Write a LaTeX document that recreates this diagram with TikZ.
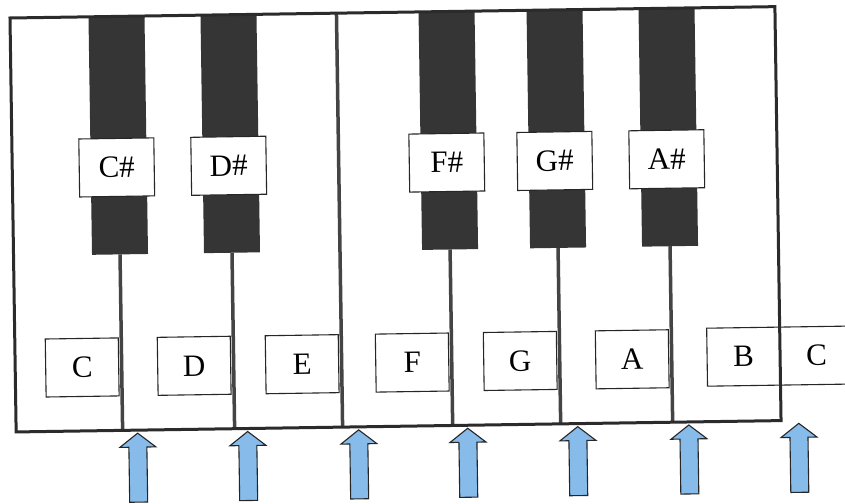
\documentclass[tikz,border=0pt]{standalone}
\usepackage{fontspec}
\setmainfont{Liberation Serif}
\definecolor{keyblack}{HTML}{353535}
\definecolor{arrowblue}{HTML}{86BBEA}
\definecolor{framecol}{HTML}{2B2B2B}
\definecolor{dividercol}{HTML}{444444}
\begin{document}
\begin{tikzpicture}[x=1pt,y=-1pt,
  blackkey/.style={fill=keyblack, draw=none},
  lbl/.style={draw=black!85, line width=1.1pt, fill=white, minimum width=73pt, minimum height=58pt, inner sep=0pt, font=\fontsize{31}{31}\selectfont},
  sharplbl/.style={lbl, minimum width=75pt},
  divline/.style={draw=dividercol, line width=3.5pt},
  frameline/.style={draw=framecol, line width=3pt},
  uparrow/.style={fill=arrowblue, draw=black!85, line width=1.1pt, line join=miter}]
\useasboundingbox (0,0) rectangle (845,503);
\begin{scope}[shift={(10,18)}, rotate=0.85, transform shape]
  % keyboard body
  \fill[white] (0,0) rectangle (765,414);
  % black keys
  \foreach \b in {106.5,218.5,436.6,544.6,656.6} {
    \fill[blackkey] (\b-28,0) rectangle (\b+28,238);
    \draw[divline] (\b,238) -- (\b,414);
  }
  % E|F boundary
  \draw[divline] (326.5,0) -- (326.5,414);
  % sharp labels
  \node[sharplbl] (cs) at (104.5,151) {C\#};
  \node[sharplbl] (ds) at (216.5,151) {D\#};
  \node[sharplbl] (fs) at (434.6,151) {F\#};
  \node[sharplbl] (gs) at (542.6,151) {G\#};
  \node[sharplbl] (as) at (654.6,151) {A\#};
  % natural labels
  \node[lbl] (c) at (67,350.5) {C};
  \node[lbl] (d) at (179,350.5) {D};
  \node[lbl] (e) at (287,350.5) {E};
  \node[lbl] (f) at (397.1,350.5) {F};
  \node[lbl] (g) at (505.1,350.5) {G};
  \node[lbl] (a) at (617.1,350.5) {A};
  \node[lbl] (b) at (728.5,349.5) {B};
  \node[lbl] (c2) at (801.5,349.5) {C};
  % frame
  \draw[frameline] (0,0) rectangle (765,414);
  % arrows
  \foreach \u in {121.5,231.5,342.5,451.6,561.6,672.7,782.7} {
    \filldraw[uparrow] (\u-9,486) -- (\u-9,431) -- (\u-18,431) -- (\u,417)
      -- (\u+18,431) -- (\u+9,431) -- (\u+9,486) -- cycle;
  }
\end{scope}
\end{tikzpicture}
\end{document}
